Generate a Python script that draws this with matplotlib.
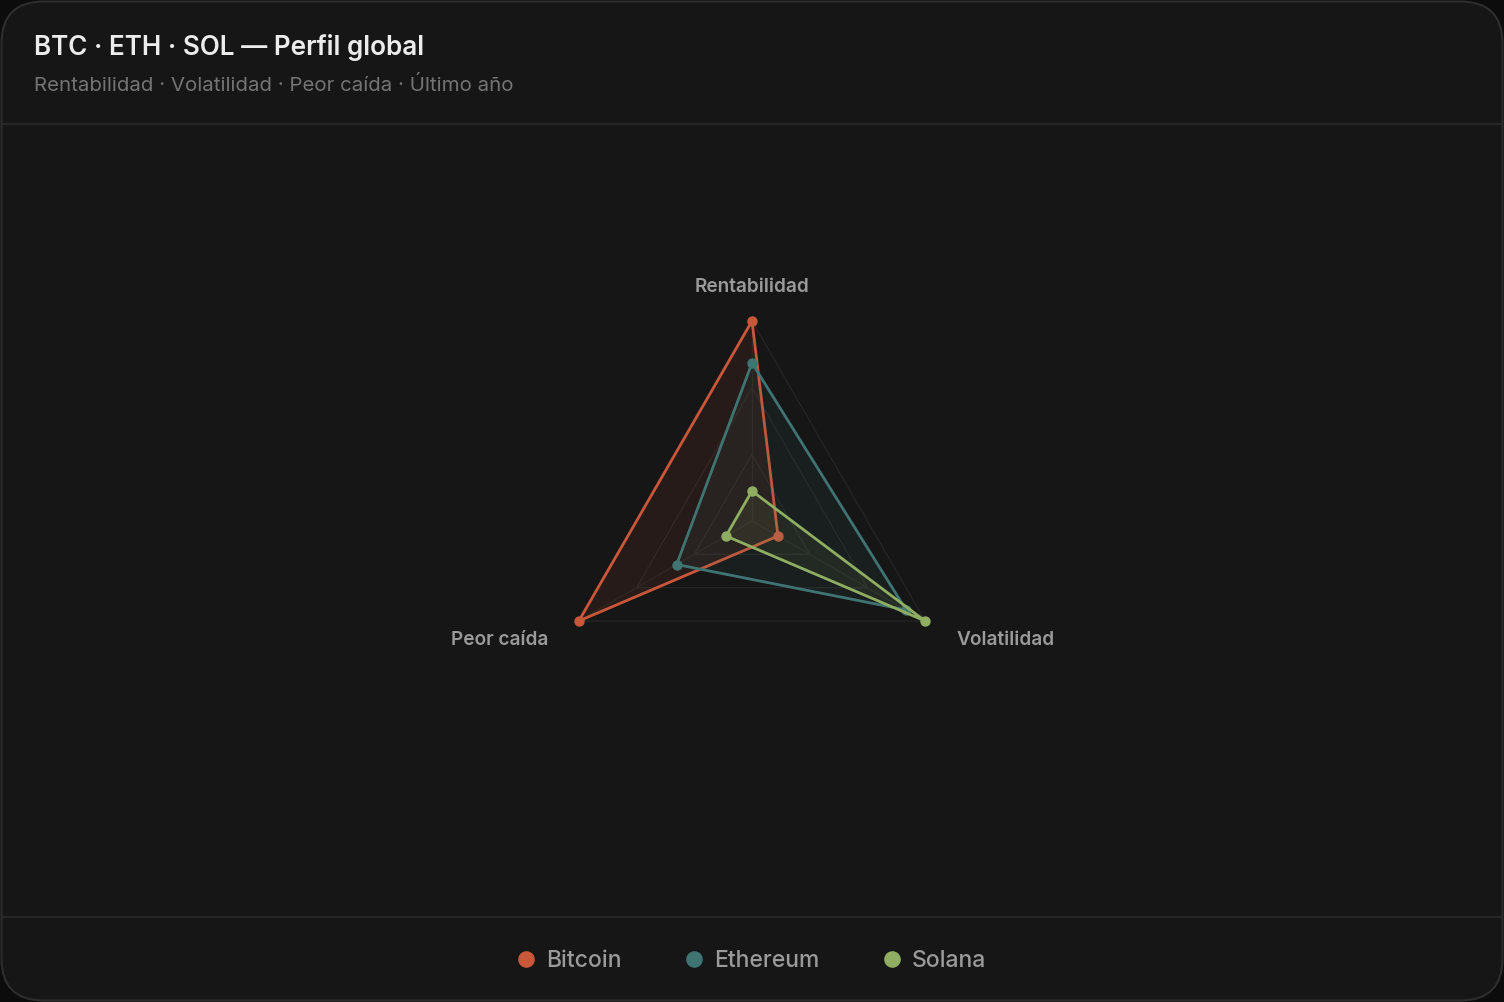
import numpy as np
import matplotlib
matplotlib.use("Agg")
from matplotlib import pyplot as plt
from matplotlib.patches import FancyBboxPatch

plt.rcParams['font.family'] = ['Inter', 'DejaVu Sans']

# data (normalised 0..1)
axes_labels = ["Rentabilidad", "Volatilidad", "Peor caída"]
series_names = ["Bitcoin", "Ethereum", "Solana"]
btc = [1.0, 0.15, 1.0]
eth = [0.79, 0.89, 0.435]
sol = [0.15, 1.0, 0.15]
colors = ["#c9573a", "#3f7472", "#8fae62"]
grid_levels = [1 / 3, 2 / 3, 1.0]

W, H = 1504, 1002
fig = plt.figure(figsize=(W / 100, H / 100), dpi=100)
fig.patch.set_facecolor("#0c0c0c")

# card background
bg = fig.add_axes([0, 0, 1, 1])
bg.set_xlim(0, W)
bg.set_ylim(H, 0)
bg.axis("off")
card = FancyBboxPatch((1.5, 1.5), W - 3, H - 3, boxstyle="round,pad=0,rounding_size=42",
                      facecolor="#161616", edgecolor="#2e2e2e", linewidth=1.5)
bg.add_patch(card)
bg.plot([2, W - 2], [124, 124], color="#2a2a2a", lw=1.2)
bg.plot([2, W - 2], [917, 917], color="#2a2a2a", lw=1.2)

bg.text(34, 47.5, "BTC · ETH · SOL — Perfil global", fontsize=18.8, fontweight="semibold",
        color="#ececec", va="center", ha="left")
bg.text(34, 85, "Rentabilidad · Volatilidad · Peor caída · Último año", fontsize=14.7,
        color="#747474", va="center", ha="left")

# legend
leg_x = [526, 694, 892]
for name, c, x in zip(series_names, colors, leg_x):
    bg.scatter([x], [959], s=120, color=c, zorder=3)
    bg.text(x + 20, 961, name, fontsize=16.5, fontweight="medium", color="#9a9a9a",
            va="center", ha="left")

# radar
cx, cy, R = 752, 521, 200
ax = fig.add_axes([(cx - R) / W, (H - cy - R) / H, 2 * R / W, 2 * R / H], projection="polar")
ax.set_facecolor("none")
ax.set_ylim(0, 1)
ax.grid(False)
ax.spines["polar"].set_visible(False)
ax.set_xticks([])
ax.set_yticks([])

theta = np.deg2rad([90, -30, 210])
th_closed = np.append(theta, theta[0])

for lv in grid_levels:
    ax.plot(th_closed, [lv] * 4, color="#242424", lw=1.0, zorder=1)
for t in theta:
    ax.plot([t, t], [0, 1], color="#222222", lw=1.0, zorder=1)

for i, (vals, c) in enumerate(zip([btc, eth, sol], colors)):
    v = np.append(vals, vals[0])
    z = 2 + 3 * i
    ax.fill(th_closed, v, color=c, alpha=0.09, lw=0, zorder=z)
    ax.plot(th_closed, v, color=c, lw=2.0, zorder=z + 1)
    ax.scatter(theta, vals, s=42, color=c, zorder=z + 2, clip_on=False)

label_offsets = {"Rentabilidad": (0, 34, "center"),
                 "Volatilidad": (31, -19, "left"),
                 "Peor caída": (-30, -19, "right")}
for lab, t in zip(axes_labels, theta):
    dx, dy, ha = label_offsets[lab]
    ax.annotate(lab, (t, 1.0), xytext=(dx, dy), textcoords="offset pixels",
                ha=ha, va="center", fontsize=13.7, fontweight="semibold", color="#9a9a9a",
                annotation_clip=False)

fig.savefig("out.png", dpi=100, facecolor=fig.get_facecolor())
